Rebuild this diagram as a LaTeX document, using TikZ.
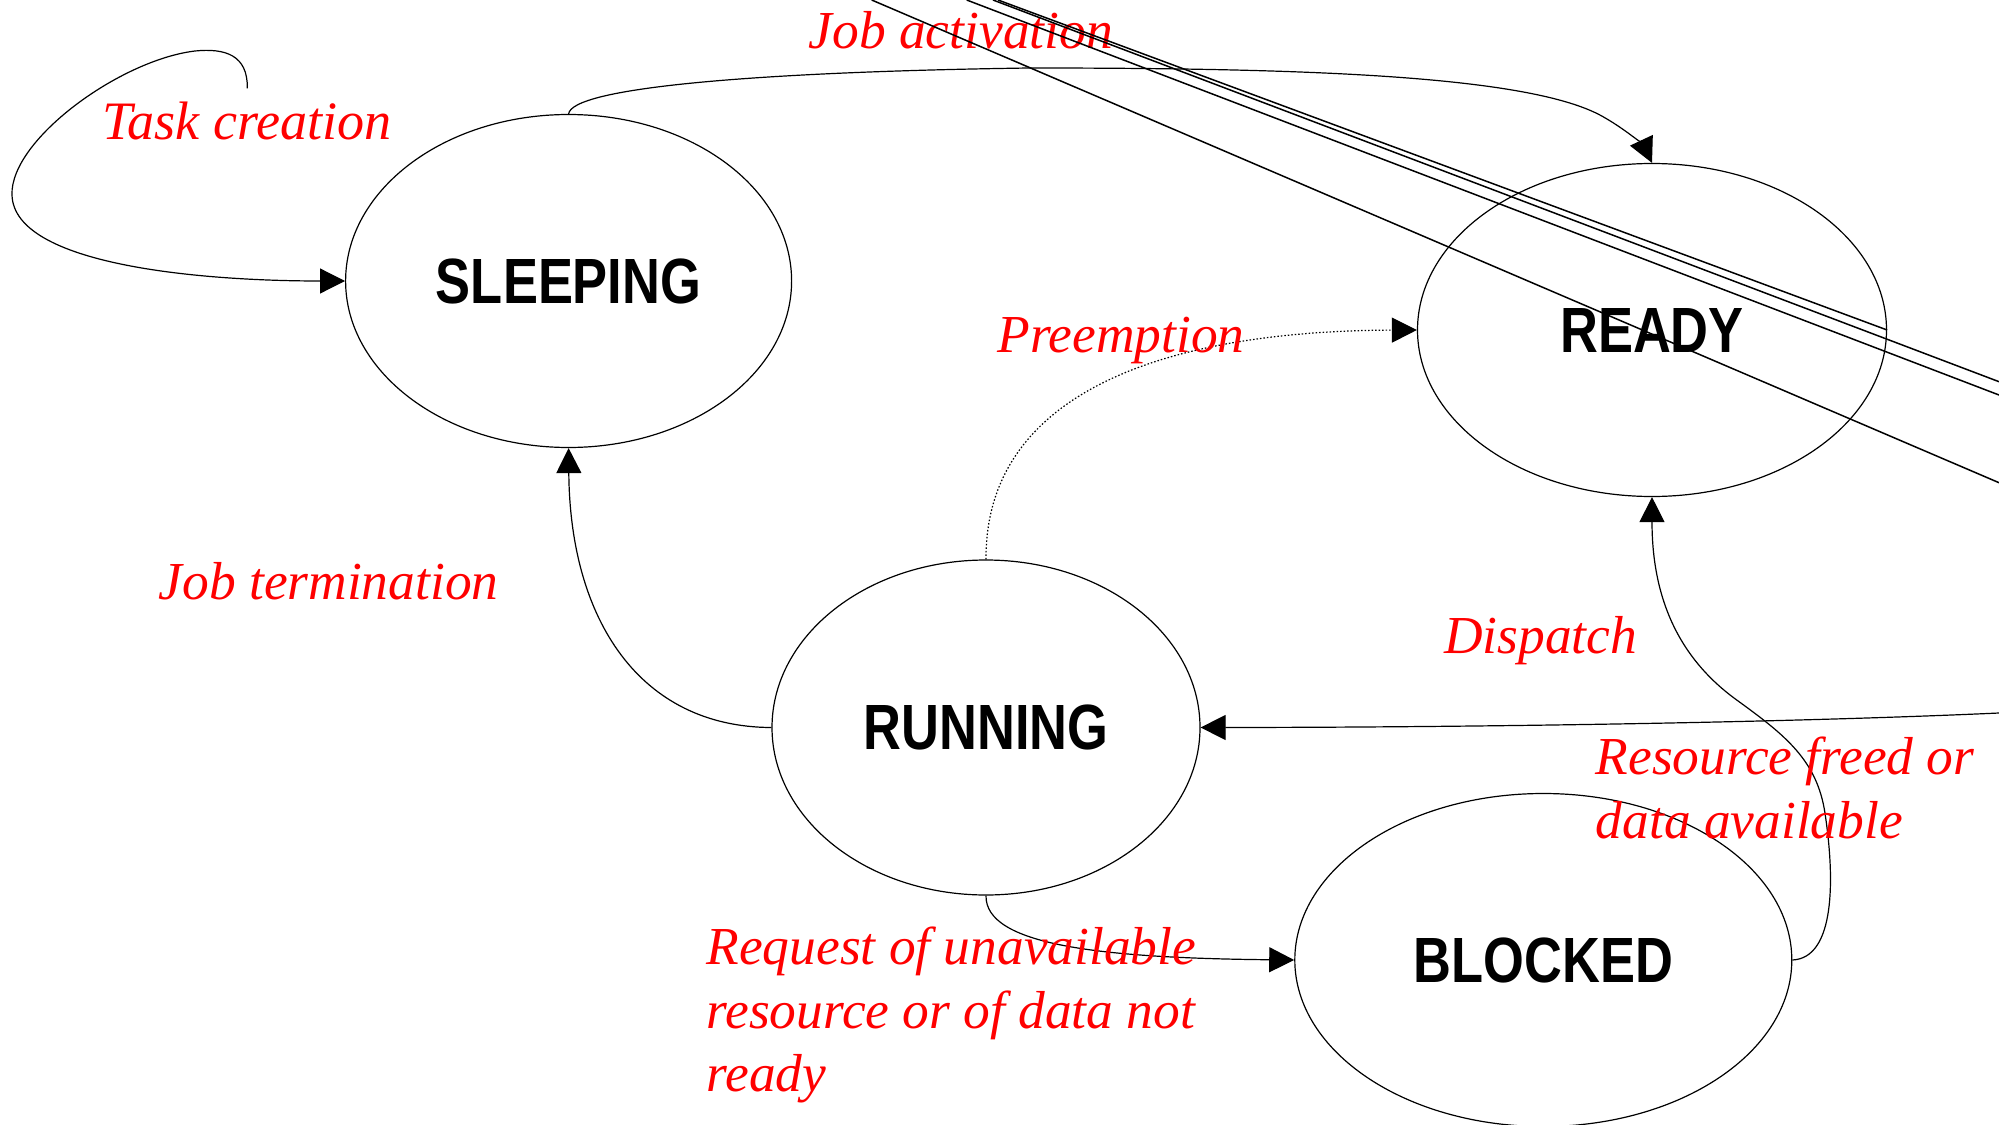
\documentclass[tikz,border=0pt]{standalone}
\usepackage{fontspec}
\setmainfont{Liberation Serif}
\newfontfamily\statefont[FakeStretch=0.82]{Liberation Sans Bold}
\usetikzlibrary{shapes.geometric,arrows.meta}

\begin{document}
\begin{tikzpicture}[x=0.1mm,y=-0.1mm,
  state/.style={ellipse,draw,line width=0.12mm,inner sep=0pt,
    font=\statefont\fontsize{18.2pt}{20pt}\selectfont},
  lbl/.style={text=red,inner sep=0pt,anchor=base west,align=left,
    font=\itshape\fontsize{15.2pt}{18.1pt}\selectfont},
  trans/.style={line width=0.12mm,-{Triangle[length=2.5mm,width=2.5mm]}},
  wire/.style={line width=0.15mm}]

\useasboundingbox (0,0) rectangle (1999,1125);
\clip (0,0) rectangle (1999,1125);

% process states
\node[state,minimum width=44.6mm,minimum height=33.3mm] (sleep) at (568.6,281) {SLEEPING};
\node[state,minimum width=46.9mm,minimum height=33.3mm] (ready) at (1652,330) {READY};
\node[state,minimum width=42.8mm,minimum height=33.5mm] (run) at (986,727.5) {RUNNING};
\node[state,minimum width=49.7mm,minimum height=33.3mm] (block) at (1543.3,960) {BLOCKED};

% free ends of connectors
\coordinate (create) at (247.3,88.3);
\coordinate (disp) at (1999,713);
\coordinate (l1a) at (871.7,0);   \coordinate (l1b) at (1999,482.7);
\coordinate (l2a) at (966.7,0);   \coordinate (l2b) at (1999,395);
\coordinate (l3a) at (993,0);     \coordinate (l3b) at (1999,381.7);
\coordinate (l4a) at (998,0);

% transitions
\draw[trans] (create) .. controls (248,55) and (225,48) .. (195,51)
  .. controls (120,60) and (10,140) .. (12,195)
  .. controls (14,265) and (200,281) .. (sleep.west);
\draw[trans] (sleep.north) .. controls (572,88) and (750,72) .. (1029,68)
  .. controls (1300,68) and (1530,75) .. (1603,116.7)
  .. controls (1630,132) and (1645,148) .. (ready.north);
\draw[trans,dash pattern=on 0.15mm off 0.2mm] (run.north)
  .. controls (985,400) and (1150,331) .. (ready.west);
\draw[trans] (run.west) .. controls (640,727) and (570,620) .. (sleep.south);
\draw[trans] (disp) .. controls (1800,722) and (1500,727.3) .. (run.east);
\draw[trans] (run.south) .. controls (985,945) and (1100,958) .. (block.west);
\draw[trans] (block.east) .. controls (1835,958) and (1835,880) .. (1825,813.3)
  .. controls (1817,760) and (1785,735) .. (1736.7,700)
  .. controls (1680,659) and (1652,600) .. (ready.south);

% labels (multi-line labels sit on the baseline of their last line)
\node[lbl] (ltc) at (102,139.3) {\fontsize{15.4pt}{18.1pt}\selectfont Task creation};
\node[lbl] (lja) at (808,48.3) {Job activation};
\node[lbl] (lpr) at (996.7,352.7) {Preemption};
\node[lbl] (ljt) at (158,599) {Job termination};
\node[lbl] (ldi) at (1443.6,653.3) {Dispatch};
\node[lbl] (lrf) at (1595,838.3) {Resource freed or\\data available};
\node[lbl] (lrq) at (705.8,1091.7) {Request of unavailable\\resource or of data not\\ready};

% straight wires crossing the upper right
\draw[wire] (l1a) -- (l1b);
\draw[wire] (l2a) -- (l2b);
\draw[wire] (l3a) -- (l3b);
\draw[wire] (l4a) -- (ready.east);
\end{tikzpicture}
\end{document}
